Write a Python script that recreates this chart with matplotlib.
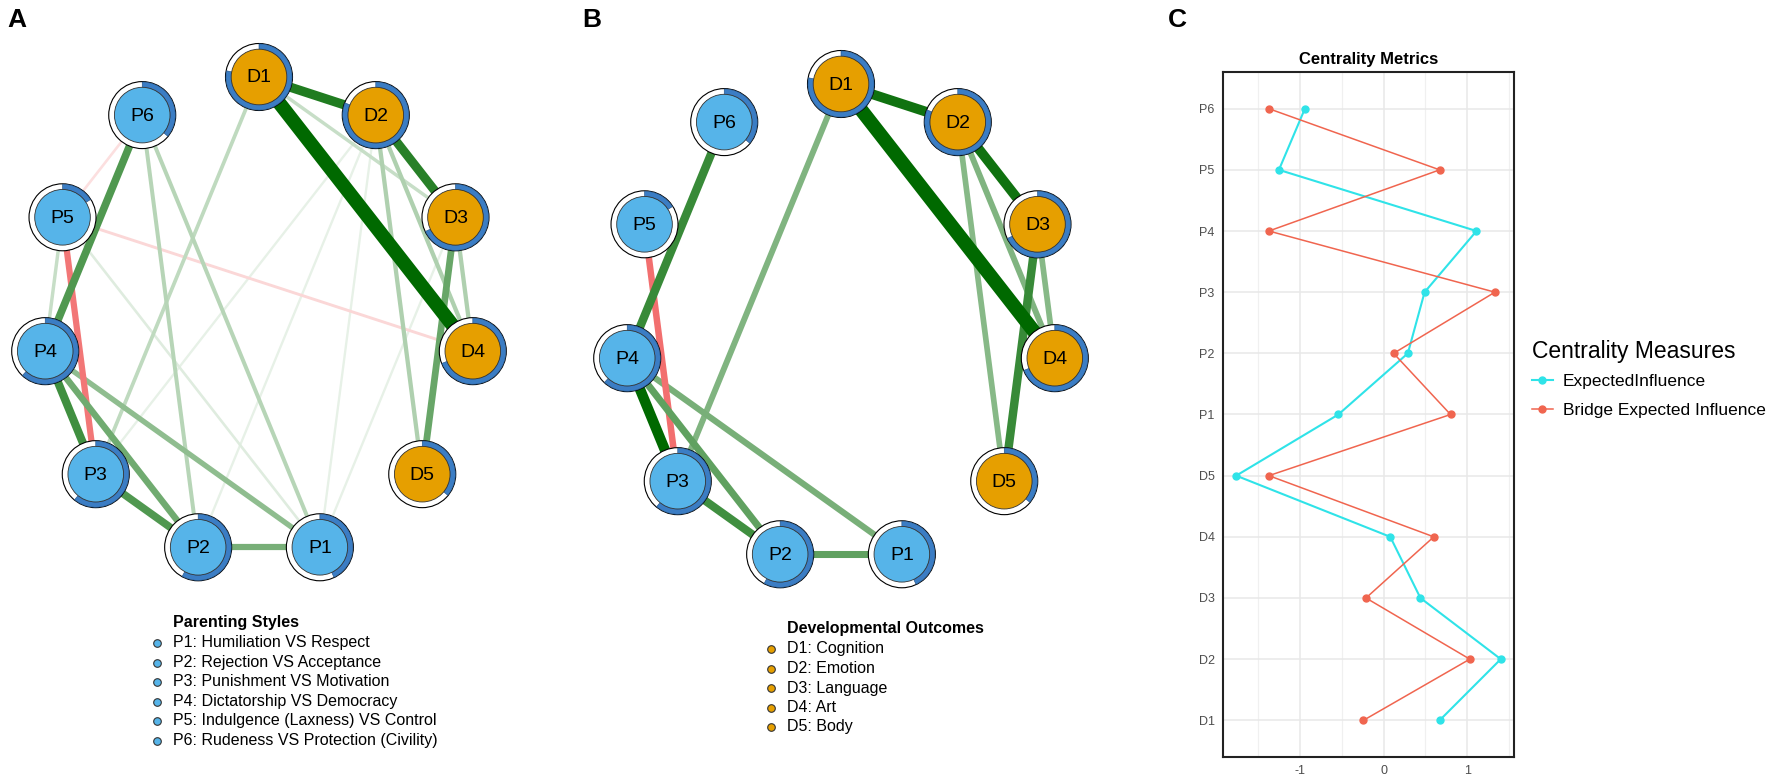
import numpy as np
import matplotlib.pyplot as plt
from matplotlib.patches import Circle, Wedge
from matplotlib.ticker import MultipleLocator

plt.rcParams['font.family'] = ['Liberation Sans', 'DejaVu Sans']

# nodes in the order the circle layout puts them (clockwise from the top)
nodes = ["D1", "D2", "D3", "D4", "D5", "P1", "P2", "P3", "P4", "P5", "P6"]
# predictability shown as the blue ring round each node
predictability = [0.78, 0.81, 0.68, 0.69, 0.36, 0.43, 0.58, 0.61, 0.62, 0.16, 0.36]

# edge weights, panel A (full network)
edges_a = [
    ("D1", "D4", 0.45), ("D1", "D2", 0.28), ("D2", "D3", 0.27),
    ("P3", "P4", 0.24), ("P4", "P6", 0.22), ("P2", "P3", 0.22),
    ("D3", "D5", 0.19), ("P2", "P4", 0.18), ("P1", "P2", 0.17),
    ("P1", "P4", 0.14), ("P3", "P5", -0.17),
    ("D2", "D4", 0.10), ("D3", "D4", 0.10), ("D2", "D5", 0.10),
    ("P2", "P6", 0.09), ("P1", "P6", 0.09), ("D1", "P3", 0.08),
    ("D1", "D3", 0.07), ("P4", "P5", 0.07),
    ("P1", "P5", 0.04), ("D2", "P3", 0.03), ("D2", "P2", 0.03),
    ("D2", "P1", 0.03), ("D3", "P1", 0.03),
    ("P5", "P6", -0.04), ("P5", "D4", -0.05),
]

# edge weights, panel B
edges_b = [
    ("D1", "D4", 0.45), ("D1", "D2", 0.30), ("D2", "D3", 0.30),
    ("P3", "P4", 0.32), ("P4", "P6", 0.25), ("D3", "D5", 0.25),
    ("P2", "P3", 0.24), ("P2", "P4", 0.20), ("P1", "P2", 0.20),
    ("P1", "P4", 0.17), ("D2", "D4", 0.16), ("D3", "D4", 0.15),
    ("D2", "D5", 0.15), ("D1", "P3", 0.16), ("P3", "P5", -0.18),
]

parenting_labels = ["P1: Humiliation VS Respect", "P2: Rejection VS Acceptance",
                    "P3: Punishment VS Motivation", "P4: Dictatorship VS Democracy",
                    "P5: Indulgence (Laxness) VS Control",
                    "P6: Rudeness VS Protection (Civility)"]
outcome_labels = ["D1: Cognition", "D2: Emotion", "D3: Language", "D4: Art", "D5: Body"]

# centrality metrics, bottom to top
metric_nodes = ["D1", "D2", "D3", "D4", "D5", "P1", "P2", "P3", "P4", "P5", "P6"]
expected_influence = [0.67, 1.40, 0.44, 0.08, -1.76, -0.54, 0.29, 0.49, 1.11, -1.25, -0.94]
bridge_ei = [-0.24, 1.03, -0.21, 0.60, -1.37, 0.80, 0.12, 1.33, -1.37, 0.67, -1.37]

BLUE_NODE = "#56B4E9"
ORANGE_NODE = "#E69F00"
RING = "#3B7DC4"
CYAN = "#2FE3E8"
RED = "#F0654F"
RX, RY = 216, 240


def edge_color(w):
    if w > 0:
        t, base = min(1, w / 0.32), np.array([0, 105, 0])
    else:
        t, base = min(1, -w / 0.2), np.array([240, 95, 95])
    c = (1 - t) * np.array([255, 255, 255]) + t * base
    return c / 255


def edge_width(w):
    return (1.5 + abs(w) / 0.45 * 12.5) * 0.72


def draw_network(ax, cx, cy, edges):
    pos = {}
    for i, name in enumerate(nodes):
        a = np.deg2rad(90 - i * 360 / len(nodes))
        pos[name] = (cx + RX * np.cos(a), cy - RY * np.sin(a))
    for a, b, w in sorted(edges, key=lambda e: abs(e[2])):
        (x1, y1), (x2, y2) = pos[a], pos[b]
        ax.plot([x1, x2], [y1, y2], color=edge_color(w), lw=edge_width(w),
                solid_capstyle="butt", zorder=1)
    for name, p in zip(nodes, predictability):
        x, y = pos[name]
        fill = ORANGE_NODE if name.startswith("D") else BLUE_NODE
        ax.add_patch(Circle((x, y), 33.5, facecolor="white", edgecolor="black", lw=0.8, zorder=3))
        ax.add_patch(Wedge((x, y), 33.1, 270, 270 + 360 * p, width=5.4, facecolor=RING,
                           edgecolor="#1F4E80", lw=0.4, zorder=4))
        ax.add_patch(Circle((x, y), 27.8, facecolor=fill, edgecolor="#333333", lw=0.6, zorder=5))
        ax.text(x, y + 1, name, ha="center", va="center", fontsize=14, zorder=6)


def draw_key(ax, x, y, title, labels, color):
    ax.text(x + 16, y, title, fontsize=11.5, fontweight="bold", va="center")
    for i, lab in enumerate(labels):
        yy = y + 20 + i * 19.5
        ax.scatter([x], [yy], s=30, color=color, edgecolor="#333333", lw=0.8, zorder=3)
        ax.text(x + 16, yy, lab, fontsize=11.5, va="center")


fig = plt.figure(figsize=(17.72, 7.81), dpi=100)

ax_net = fig.add_axes([0, 0, 1, 1])
ax_net.set_xlim(0, 1772)
ax_net.set_ylim(781, 0)
ax_net.axis("off")

draw_network(ax_net, 259, 317, edges_a)
draw_network(ax_net, 841, 324, edges_b)
draw_key(ax_net, 157, 623, "Parenting Styles", parenting_labels, BLUE_NODE)
draw_key(ax_net, 771, 629, "Developmental Outcomes", outcome_labels, ORANGE_NODE)

for letter, x in [("A", 17), ("B", 592), ("C", 1177)]:
    ax_net.text(x, 20, letter, fontsize=19, fontweight="bold", ha="center", va="center")

# panel C
ax_c = fig.add_axes([1223 / 1772, 24 / 781, 291 / 1772, 685 / 781])
ypos = np.arange(1, len(metric_nodes) + 1)
ax_c.plot(expected_influence, ypos, color=CYAN, lw=1.5, marker="o", ms=5,
          label="ExpectedInfluence")
ax_c.plot(bridge_ei, ypos, color=RED, lw=1.1, marker="o", ms=5,
          label="Bridge Expected Influence")

ax_c.set_yticks(ypos)
ax_c.set_yticklabels(metric_nodes)
ax_c.set_ylim(0.4, len(metric_nodes) + 0.6)
lo = min(min(expected_influence), min(bridge_ei))
hi = max(max(expected_influence), max(bridge_ei))
pad = 0.05 * (hi - lo)
ax_c.set_xlim(lo - pad, hi + pad)
ax_c.set_xticks([-1, 0, 1])
ax_c.set_xticklabels(["-1", "0", "1"])
ax_c.xaxis.set_minor_locator(MultipleLocator(0.5))
ax_c.grid(which="major", color="#E8E8E8", lw=1.1)
ax_c.grid(which="minor", axis="x", color="#F0F0F0", lw=0.9)
ax_c.set_axisbelow(True)
ax_c.tick_params(which="both", length=0, labelsize=9, labelcolor="#4D4D4D", pad=6)
for sp in ax_c.spines.values():
    sp.set_color("#222222")
    sp.set_linewidth(1.5)
ax_c.set_title("Centrality Metrics", fontsize=12, fontweight="bold", pad=6)

leg = ax_c.legend(loc="upper left", bbox_to_anchor=(1523 / 1772, 1 - 331 / 781),
                  bbox_transform=fig.transFigure, frameon=False, title="Centrality Measures",
                  title_fontsize=16.5, fontsize=12.5, handlelength=1.2, handletextpad=0.6,
                  borderpad=0, labelspacing=0.8, alignment="left")
leg._legend_box.sep = 8  # a little more room under the legend title

fig.savefig("out.png", dpi=100)
